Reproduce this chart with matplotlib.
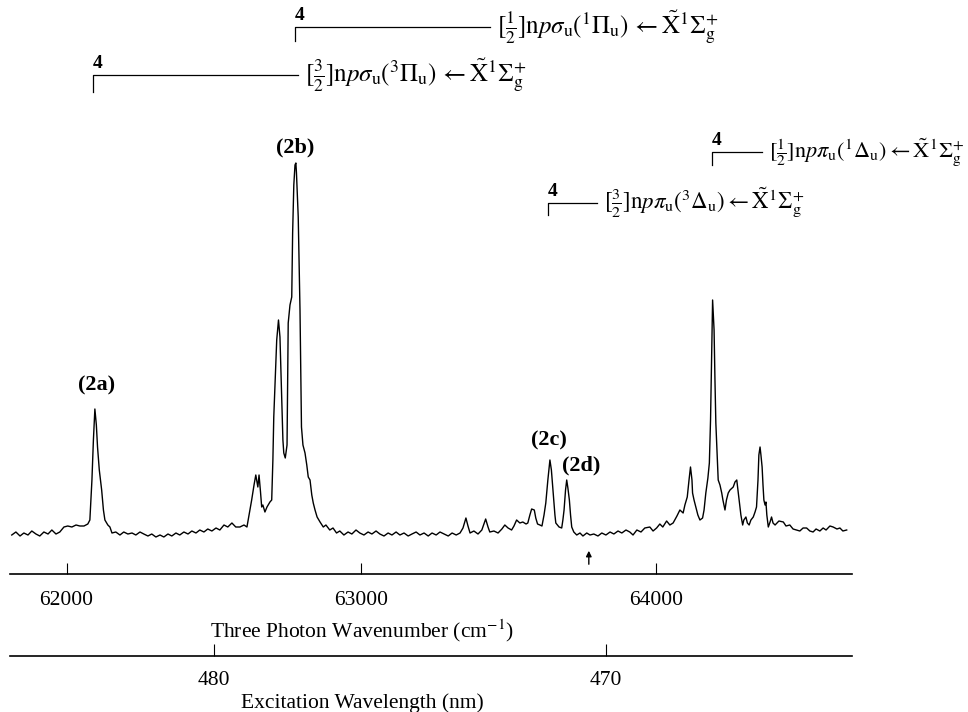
import matplotlib
matplotlib.use("Agg")
import numpy as np
import matplotlib.pyplot as plt
import matplotlib.transforms as mtransforms

plt.rcParams['font.family'] = ['Liberation Serif', 'DejaVu Serif']
plt.rcParams['mathtext.fontset'] = 'stix'

# three-photon wavenumber (cm^-1) and REMPI signal (arb. units)
wavenumber = [
    61814, 61828, 61842, 61855, 61869, 61882, 61896, 61909, 61923, 61937,
    61950, 61964, 61977, 61991, 62004, 62018, 62032, 62045, 62059, 62072,
    62079, 62086, 62091, 62096, 62101, 62105, 62111, 62119, 62125, 62130,
    62140, 62147, 62154, 62167, 62181, 62194, 62208, 62222, 62235, 62249,
    62262, 62276, 62289, 62303, 62317, 62330, 62344, 62357, 62371, 62384,
    62398, 62412, 62425, 62439, 62452, 62466, 62479, 62493, 62507, 62520,
    62534, 62547, 62561, 62574, 62588, 62602, 62612, 62622, 62628, 62636,
    62642, 62649, 62653, 62658, 62662, 62666, 62673, 62680, 62690, 62696,
    62700, 62703, 62713, 62719, 62724, 62730, 62734, 62737, 62742, 62748,
    62752, 62758, 62764, 62767, 62771, 62775, 62778, 62780, 62786, 62792,
    62797, 62802, 62809, 62815, 62820, 62826, 62832, 62837, 62843, 62850,
    62860, 62871, 62880, 62893, 62904, 62916, 62927, 62941, 62955, 62968,
    62982, 62995, 63009, 63023, 63036, 63050, 63063, 63077, 63091, 63104,
    63118, 63131, 63145, 63159, 63172, 63186, 63199, 63213, 63227, 63240,
    63254, 63267, 63281, 63295, 63308, 63322, 63335, 63345, 63355, 63362,
    63369, 63382, 63396, 63409, 63422, 63430, 63436, 63450, 63464, 63477,
    63487, 63498, 63510, 63518, 63527, 63538, 63548, 63559, 63565, 63572,
    63578, 63587, 63592, 63598, 63606, 63613, 63620, 63626, 63633, 63640,
    63645, 63651, 63657, 63660, 63671, 63680, 63684, 63688, 63693, 63697,
    63701, 63706, 63710, 63714, 63721, 63731, 63742, 63752, 63765, 63776,
    63789, 63803, 63816, 63830, 63844, 63857, 63871, 63884, 63898, 63911,
    63922, 63935, 63949, 63962, 63979, 63990, 64002, 64013, 64023, 64036,
    64047, 64058, 64071, 64081, 64092, 64098, 64106, 64112, 64117, 64122,
    64124, 64129, 64135, 64142, 64149, 64158, 64163, 64169, 64176, 64181,
    64185, 64189, 64192, 64197, 64200, 64203, 64211, 64217, 64223, 64227,
    64234, 64239, 64245, 64251, 64262, 64268, 64274, 64278, 64282, 64288,
    64294, 64298, 64305, 64310, 64316, 64322, 64330, 64336, 64341, 64346,
    64349, 64353, 64356, 64360, 64363, 64366, 64370, 64373, 64376, 64381,
    64387, 64392, 64397, 64404, 64417, 64432, 64441, 64454, 64465, 64477,
    64488, 64499, 64511, 64522, 64533, 64543, 64556, 64567, 64577, 64590,
    64601, 64614, 64624, 64634, 64647,
]
signal = [
    0, 3, -1, 2, 0, 4, 1, -1, 3, 1,
    5, 1, 3, 8, 9, 8, 10, 9, 9, 11,
    15, 55, 95, 126, 110, 88, 65, 45, 25, 15,
    10, 8, 2, 3, 0, 3, 1, 2, 0, 3,
    1, -1, 1, -2, 0, -2, 1, -1, 2, 0,
    3, 1, 4, 2, 5, 3, 6, 4, 7, 5,
    10, 8, 12, 8, 8, 10, 8, 25, 35, 50,
    60, 48, 60, 43, 28, 30, 23, 28, 33, 35,
    75, 118, 195, 215, 198, 135, 95, 82, 77, 90,
    212, 230, 238, 302, 350, 370, 372, 362, 318, 225,
    108, 90, 82, 70, 58, 55, 40, 32, 25, 18,
    13, 8, 10, 5, 7, 2, 4, 0, 3, 1,
    5, 2, 0, 3, 1, 4, 1, -1, 2, 0,
    3, 0, 2, -1, 1, 3, 0, 2, -1, 2,
    0, 3, 1, -1, 2, 0, 2, 7, 17, 9,
    2, 4, 1, 5, 16, 8, 3, 4, 2, 6,
    10, 7, 5, 9, 15, 12, 13, 11, 12, 20,
    26, 25, 17, 11, 10, 9, 20, 32, 55, 75,
    65, 42, 20, 12, 8, 7, 15, 25, 45, 55,
    47, 35, 20, 8, 3, 0, 2, -1, 2, 0,
    1, -1, 2, 0, 3, 1, 4, 2, 5, 3,
    0, 5, 3, 7, 8, 4, 7, 11, 8, 14,
    10, 12, 19, 25, 22, 30, 38, 55, 68, 55,
    42, 35, 28, 20, 15, 17, 25, 42, 57, 72,
    115, 185, 235, 205, 155, 112, 55, 50, 42, 35,
    25, 35, 42, 45, 48, 53, 55, 45, 35, 20,
    10, 15, 18, 12, 10, 15, 18, 23, 28, 55,
    80, 88, 80, 68, 50, 35, 30, 33, 20, 8,
    13, 18, 12, 10, 14, 13, 9, 10, 6, 5,
    4, 7, 7, 4, 3, 6, 4, 7, 5, 9,
    8, 6, 7, 4, 5,
]

peak_labels = ['(2a)', '(2b)', '(2c)', '(2d)']
peak_label_nu = [62103, 62775, 63637, 63745]
peak_label_y = [150, 388, 95, 70]

# progression origins (v = 4) and the assignments
band_origin = [62775, 62089, 64190, 63633]
band_line_end = [63436, 62785, 64359, 63799]
band_y = [508, 460, 383, 332]
band_drop = [14, 17, 13, 12]
band_names = [
    r'$[\frac{1}{2}]\mathrm{n}p\sigma_{\mathrm{u}}({}^{1}\Pi_{\mathrm{u}})\,\leftarrow\tilde{\mathrm{X}}{}^{1}\Sigma_{\mathrm{g}}^{+}$',
    r'$[\frac{3}{2}]\mathrm{n}p\sigma_{\mathrm{u}}({}^{3}\Pi_{\mathrm{u}})\,\leftarrow\tilde{\mathrm{X}}{}^{1}\Sigma_{\mathrm{g}}^{+}$',
    r'$[\frac{1}{2}]\mathrm{n}p\pi_{\mathrm{u}}({}^{1}\Delta_{\mathrm{u}})\leftarrow\tilde{\mathrm{X}}{}^{1}\Sigma_{\mathrm{g}}^{+}$',
    r'$[\frac{3}{2}]\mathrm{n}p\pi_{\mathrm{u}}({}^{3}\Delta_{\mathrm{u}})\leftarrow\tilde{\mathrm{X}}{}^{1}\Sigma_{\mathrm{g}}^{+}$',
]
band_fs = [18, 18, 16, 16.5]
band_v = ['4', '4', '4', '4']

arrow_nu = 63772
wn_ticks = [62000, 63000, 64000]
nm_ticks = [480, 470]


def nu_to_nm(x):
    x = np.asarray(x, dtype=float)
    with np.errstate(divide='ignore', invalid='ignore'):
        return 3e7 / x


fig = plt.figure(figsize=(9.68, 7.12), dpi=100)
ax = fig.add_axes([10 / 968, 1 - 574 / 712, 842 / 968, 574 / 712])
ax.plot(wavenumber, signal, color='black', lw=1.0)
ax.set_xlim(61808, 64665)
ax.set_ylim(-39, 535)

for s in ['top', 'left', 'right']:
    ax.spines[s].set_visible(False)
ax.spines['bottom'].set_linewidth(1.2)
ax.set_yticks([])
ax.set_xticks(wn_ticks)
ax.tick_params(axis='x', direction='in', length=8, width=0.8, pad=12, labelsize=15.5)

# label positions: x in axes fraction, y in figure fraction
lab_tr = mtransforms.blended_transform_factory(ax.transAxes, fig.transFigure)
ax.set_xlabel('Three Photon Wavenumber (cm$^{-1}$)', fontsize=15.5)
ax.xaxis.set_label_coords(0.418, 1 - 617 / 712, transform=lab_tr)

sec = ax.secondary_xaxis(-(656 - 574) / 574, functions=(nu_to_nm, nu_to_nm))
sec.set_xticks(nm_ticks)
sec.spines['bottom'].set_linewidth(1.2)
sec.tick_params(axis='x', direction='in', length=9, width=0.8, pad=11, labelsize=15.5)
sec.set_xlabel('Excitation Wavelength (nm)', fontsize=15.5)
sec.xaxis.set_label_coords(0.418, 1 - 693 / 712, transform=lab_tr)

ax.annotate('', xy=(arrow_nu, -13), xytext=(arrow_nu, -32),
            arrowprops=dict(arrowstyle='-|>', color='black', lw=1, mutation_scale=8),
            annotation_clip=False)

for lbl, nu, y in zip(peak_labels, peak_label_nu, peak_label_y):
    ax.text(nu, y, lbl, ha='center', va='center', fontsize=16, fontweight='bold')

for nu, end, y, d, name, fs, v in zip(band_origin, band_line_end, band_y, band_drop,
                                       band_names, band_fs, band_v):
    ax.plot([nu, nu, end], [y - d, y, y], color='black', lw=0.9, clip_on=False)
    ax.text(nu, y + 3, v, ha='left', va='bottom', fontsize=14, fontweight='bold')
    ax.annotate(name, (end, y), xytext=(7, 0), textcoords='offset pixels',
                ha='left', va='center', fontsize=fs, annotation_clip=False)

fig.savefig('out.png', dpi=100)
